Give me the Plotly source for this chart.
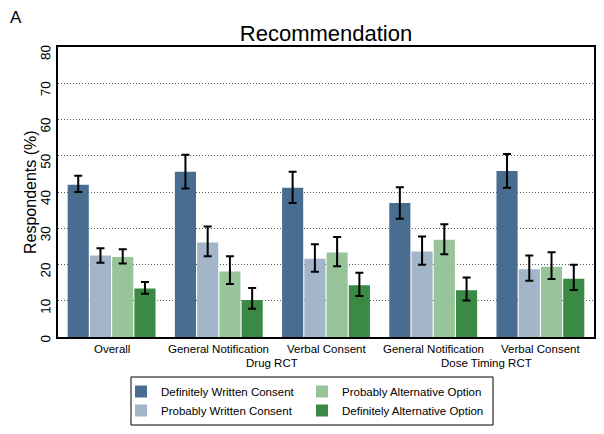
import plotly.graph_objects as go

groups = ["Overall", "General Notification", "Verbal Consent", "General Notification", "Verbal Consent"]
series = ["Definitely Written Consent", "Probably Written Consent", "Probably Alternative Option", "Definitely Alternative Option"]
colors = ["#496d90", "#a2b5c9", "#98c49a", "#3a8944"]

dwc = [42.0, 45.6, 41.2, 37.0, 45.8]
dwc_hi = [44.5, 50.3, 45.6, 41.3, 50.5]
dwc_lo = [40.0, 41.0, 37.0, 32.6, 41.2]

pwc = [22.5, 26.1, 21.6, 23.6, 18.7]
pwc_hi = [24.5, 30.5, 25.6, 27.7, 22.5]
pwc_lo = [20.5, 22.3, 18.0, 19.9, 15.5]

pao = [22.1, 18.1, 23.3, 26.8, 19.4]
pao_hi = [24.2, 22.3, 27.6, 31.1, 23.4]
pao_lo = [20.3, 14.6, 19.5, 22.8, 16.0]

dao = [13.4, 10.2, 14.3, 12.9, 16.1]
dao_hi = [15.2, 13.5, 17.7, 16.4, 19.9]
dao_lo = [11.9, 7.8, 11.3, 10.1, 13.0]

subgroup_labels = ["Drug RCT", "Dose Timing RCT"]
subgroup_pos = [1.5, 3.5]
yticks = [0, 10, 20, 30, 40, 50, 60, 70, 80]

vals = [dwc, pwc, pao, dao]
his = [dwc_hi, pwc_hi, pao_hi, dao_hi]
los = [dwc_lo, pwc_lo, pao_lo, dao_lo]
legend_ids = ["legend", "legend", "legend2", "legend2"]

x = list(range(len(groups)))
fig = go.Figure()
for name, v, hi, lo, c, lg in zip(series, vals, his, los, colors, legend_ids):
    fig.add_trace(go.Bar(
        x=x, y=v, name=name, marker=dict(color=c, line=dict(width=0)),
        legend=lg,
        error_y=dict(type="data", symmetric=False,
                     array=[h - a for h, a in zip(hi, v)],
                     arrayminus=[a - l for l, a in zip(lo, v)],
                     color="black", thickness=2, width=4),
    ))

W, H = 604, 434
ml, mr, mt, mb = 58, 10, 47, 97
pw, ph = W - ml - mr, H - mt - mb

def px_to_paper(px, py):
    return (px - ml) / pw, (H - mb - py) / ph

annotations = []
ax, ay = px_to_paper(8, 17)
annotations.append(dict(text="A", x=ax, y=ay, xref="paper", yref="paper", showarrow=False,
                        font=dict(size=17, color="black"), xanchor="left", yanchor="middle"))
tx, _ = px_to_paper(30, 0)
annotations.append(dict(text="Respondents (%)", x=tx, y=0.5, xref="paper", yref="paper",
                        showarrow=False, textangle=-90, font=dict(size=16, color="black"),
                        xanchor="center", yanchor="middle"))
for g, xi in zip(groups, x):
    annotations.append(dict(text=g, x=xi, y=-0.015, xref="x", yref="paper", showarrow=False,
                            font=dict(size=11.5, color="black"), xanchor="center", yanchor="top"))
for s, xp in zip(subgroup_labels, subgroup_pos):
    annotations.append(dict(text=s, x=xp, y=-0.062, xref="x", yref="paper", showarrow=False,
                            font=dict(size=11.5, color="black"), xanchor="center", yanchor="top"))

x0, y0 = px_to_paper(131, 377)
x1, y1 = px_to_paper(493, 425)
shapes = [dict(type="rect", xref="paper", yref="paper", x0=x0, y0=y1, x1=x1, y1=y0,
               line=dict(color="black", width=1), fillcolor="rgba(0,0,0,0)")]

l1x, l1y = px_to_paper(121, 377)
l2x, l2y = px_to_paper(302, 377)

fig.update_layout(
    width=W, height=H,
    margin=dict(l=ml, r=mr, t=mt, b=mb, autoexpand=False),
    paper_bgcolor="white", plot_bgcolor="white",
    font=dict(family="Liberation Sans, Arial, sans-serif", color="black"),
    title=dict(text="Recommendation", x=(ml + pw / 2) / W, xanchor="center",
               y=1 - 33 / H, yanchor="middle", font=dict(size=22, color="black")),
    barmode="group", bargap=0.17, bargroupgap=0.05,
    showlegend=True,
    legend=dict(x=l1x, y=l1y, xanchor="left", yanchor="top", orientation="v",
                font=dict(size=11.5), bgcolor="rgba(0,0,0,0)", tracegroupgap=0,
                itemsizing="constant"),
    legend2=dict(x=l2x, y=l2y, xanchor="left", yanchor="top", orientation="v",
                 font=dict(size=11.5), bgcolor="rgba(0,0,0,0)", tracegroupgap=0,
                 itemsizing="constant"),
    xaxis=dict(range=[-0.5, 4.5], showticklabels=False, ticks="", showgrid=False,
               showline=True, linecolor="black", linewidth=1.5, mirror=True, zeroline=False),
    yaxis=dict(range=[0, 80], tickvals=yticks, ticktext=[str(t) for t in yticks],
               tickangle=-89.9, ticks="",
               ticklabelstandoff=10,
               tickfont=dict(size=13.5, color="black"),
               showgrid=True, gridcolor="#555555", griddash="1px,2px", gridwidth=1,
               showline=True, linecolor="black", linewidth=1.5, mirror=True, zeroline=False),
    annotations=annotations,
    shapes=shapes,
)
fig.write_html("out.html", config={"displayModeBar": False},
               post_script="document.body.style.margin='0px';")
